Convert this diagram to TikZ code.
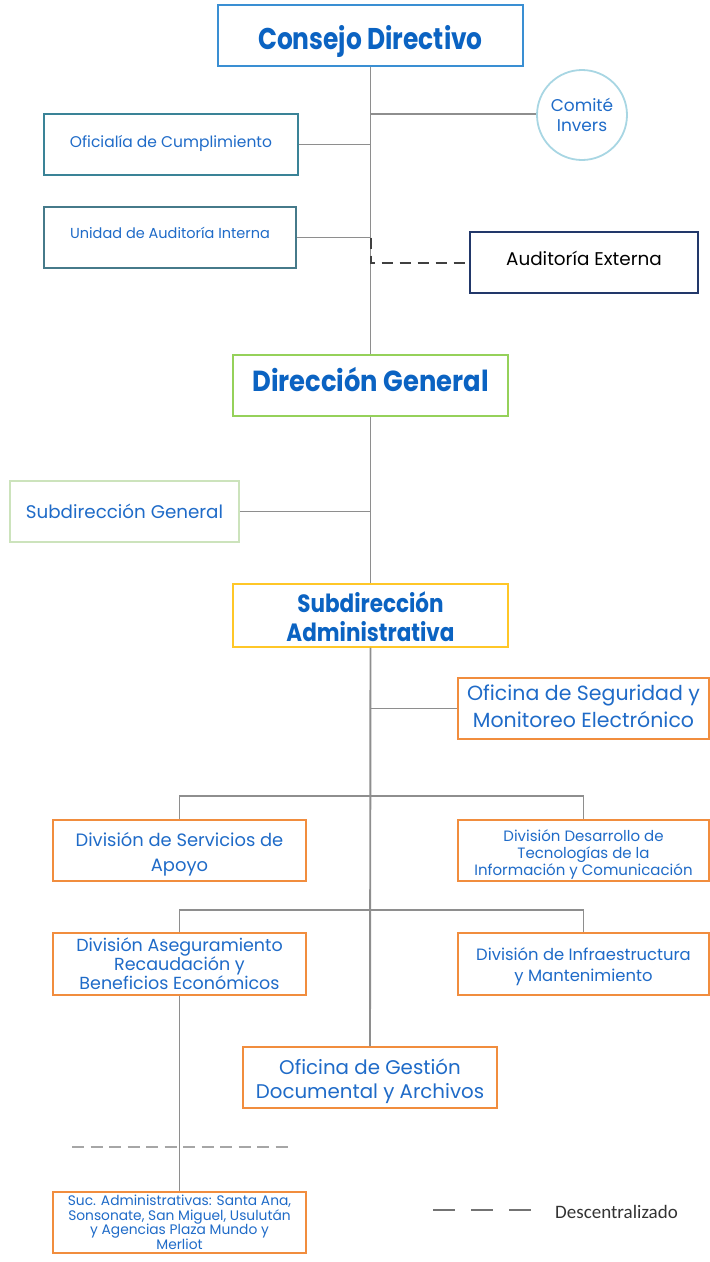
\documentclass[tikz,border=0pt]{standalone}
\usepackage{fontspec}
\setmainfont{Poppins}
\newfontfamily\headfontA[FakeStretch=0.83]{Poppins}
\newfontfamily\headfontB[FakeStretch=0.89]{Poppins}
\newfontfamily\headfontC[FakeStretch=0.86]{Poppins}
\newfontfamily\legfont{Carlito}
\definecolor{txtblue}{HTML}{1F6BC8}
\definecolor{headblue}{HTML}{0B63C2}
\definecolor{linegray}{HTML}{8E8E8E}
\definecolor{cdblue}{HTML}{3A8FD3}
\definecolor{circ}{HTML}{A8D6E3}
\definecolor{teal}{HTML}{3A8397}
\definecolor{teal2}{HTML}{467A8A}
\definecolor{navy}{HTML}{22386A}
\definecolor{dgreen}{HTML}{95D15A}
\definecolor{pgreen}{HTML}{CCE3BC}
\definecolor{gold}{HTML}{FFC727}
\definecolor{orng}{HTML}{F18D3E}
\newcommand{\fsz}[2]{\fontsize{#1}{#2}\selectfont}
\newcommand{\rb}[2]{\raisebox{#1}[\height][\depth]{#2}}
\newcommand{\mlines}[2]{\raisebox{#1}[\height][\depth]{\begin{tabular}{@{}c@{}}#2\end{tabular}}}
\tikzset{
  box/.style={draw=#1, line width=1.8pt, fill=white, minimum height=61pt, inner sep=2pt, align=center, text=txtblue},
  conn/.style={draw=linegray, line width=1.9pt},
  extdash/.style={draw=black!75, line width=2pt, dash pattern=on 11pt off 7pt},
  decdash/.style={draw=black!35, line width=1.8pt, dash pattern=on 12pt off 6.5pt},
  legdash/.style={draw=black!55, line width=1.4pt, dash pattern=on 22pt off 16pt},
}
\begin{document}
\begin{tikzpicture}[x=1pt,y=-1pt]
\useasboundingbox (0,0) rectangle (710,1262);
% nodes
\node[box=cdblue, minimum width=305pt, text=headblue, font=\headfontA\bfseries\fsz{30}{34}] (cd) at (370.5,35.5) {\rb{-5.5pt}{Consejo Directivo}};
\node[circle, draw=circ, line width=1.8pt, minimum size=90pt, inner sep=0pt, align=center, text=txtblue, font=\fsz{17}{20}] (com) at (582,115) {Comité\\Invers};
\node[box=teal, minimum width=254pt, font=\fsz{15.5}{18}] (of) at (171,144.5) {\rb{1pt}{Oficialía de Cumplimiento}};
\node[box=teal2, minimum width=252pt, font=\fsz{14.5}{18}] (ua) at (170,237.5) {\rb{5pt}{Unidad de Auditoría Interna}};
\node[box=navy, minimum width=228pt, text=black, font=\fsz{18.4}{20}] (ae) at (584,262.5) {\rb{4.5pt}{Auditoría Externa}};
\node[box=dgreen, minimum width=275pt, text=headblue, font=\headfontB\bfseries\fsz{29}{32}] (dg) at (370.5,385.5) {\rb{6pt}{Dirección General}};
\node[box=pgreen, minimum width=229pt, font=\fsz{18.3}{20}] (sg) at (124.5,511.5) {Subdirección General};
\node[box=gold, minimum width=275pt, text=headblue, font=\headfontC\bfseries\fsz{25}{29}] (sa) at (370.5,615.5) {\mlines{-5pt}{Subdirección\\Administrativa}};
\node[box=orng, minimum width=251pt, font=\fsz{20.5}{27}] (os) at (583.5,708.5) {\mlines{0pt}{Oficina de Seguridad y\\Monitoreo Electrónico}};
\node[box=orng, minimum width=253pt, font=\fsz{17.9}{25}] (dsa) at (179.5,850.5) {\mlines{-3pt}{División de Servicios de\\Apoyo}};
\node[box=orng, minimum width=251pt, font=\fsz{15}{17}] (dtic) at (583.5,850.5) {\mlines{-5pt}{División Desarrollo de\\Tecnologías de la\\Información y Comunicación}};
\node[box=orng, minimum width=253pt, minimum height=62pt, font=\fsz{17.5}{18.5}] (dar) at (179.5,964) {\mlines{-2.5pt}{División Aseguramiento\\Recaudación y\\Beneficios Económicos}};
\node[box=orng, minimum width=251pt, minimum height=62pt, font=\fsz{16.4}{21}] (dim) at (583.5,964) {\mlines{-3pt}{División de Infraestructura\\y Mantenimiento}};
\node[box=orng, minimum width=254pt, font=\fsz{19.8}{24}] (ogd) at (370,1077.5) {\mlines{-4pt}{Oficina de Gestión\\Documental y Archivos}};
\node[box=orng, minimum width=253pt, font=\fsz{13.8}{14.5}] (suc) at (179.5,1222.5) {Suc. Administrativas: Santa Ana,\\Sonsonate, San Miguel, Usulután\\y Agencias Plaza Mundo y\\Merliot};
\node[anchor=west, text=black!80, inner sep=0pt, font=\legfont\fsz{19}{20}] (leg) at (555,1212) {Descentralizado};
% coordinates
\coordinate (b1) at (371,796);
\coordinate (b2) at (371,910);
\coordinate (d1) at (72,1147);
\coordinate (d2) at (292,1147);
\coordinate (l1) at (433,1210);
\coordinate (l2) at (537,1210);
% connectors
\draw[conn] (cd.south) -- (dg.north);
\draw[conn] (com.west |- 0,114) -- (cd.south |- 0,114);
\draw[conn] (of.east) -- (of.east -| cd.south);
\draw[conn] (ua.east) -- (ua.east -| cd.south);
\draw[extdash] (ua.east -| cd.south) |- (ae.west);
\draw[conn] (dg.south) -- (sa.north);
\draw[conn] (sg.east) -- (sg.east -| dg.south);
\draw[conn] (sa.south) -- (ogd.north);
\draw[conn] (os.west) -- (os.west -| sa.south);
\draw[conn] (dsa.north) |- (b1) -| (dtic.north);
\draw[conn] (dar.north) |- (b2) -| (dim.north);
\draw[conn] (dar.south) -- (suc.north);
\draw[decdash] (d1) -- (d2);
\draw[legdash] (l1) -- (l2);
\end{tikzpicture}
\end{document}
